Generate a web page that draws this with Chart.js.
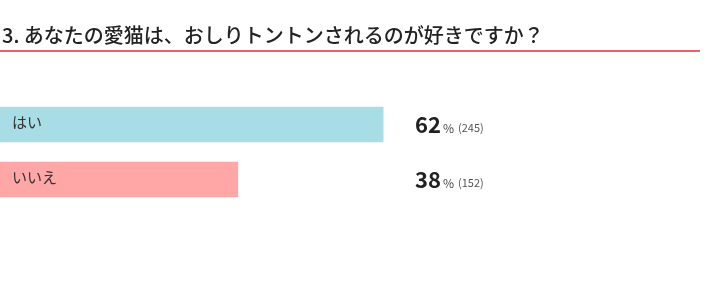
<!DOCTYPE html>
<html>
<head>
<meta charset="utf-8">
<script src="https://cdn.jsdelivr.net/npm/chart.js@4"></script>
<style>
  html, body { margin: 0; padding: 0; background: #fff; }
  #wrap { position: relative; width: 710px; height: 302px; overflow: hidden; }
  #title {
    position: absolute; left: 0; top: 22px; width: 700px;
    font-family: "Noto Sans CJK JP", sans-serif; font-size: 20px; font-weight: 500;
    color: #222; line-height: 26px; padding-bottom: 2px; padding-left: 2px;
    border-bottom: 2px solid #e8646a; box-sizing: border-box;
  }
  canvas { position: absolute; left: 0; top: 0; }
</style>
</head>
<body>
<div id="wrap">
  <canvas id="chart" width="710" height="302"></canvas>
  <div id="title">3. あなたの愛猫は、おしりトントンされるのが好きですか？</div>
</div>
<script>
const categories = ['はい', 'いいえ'];
const shares = [61.7, 38.3];      // bar lengths (%)
const percentLabels = [62, 38];   // rounded % shown as text
const counts = [245, 152];
const barColors = ['#a9dde6', '#ffa6a6'];

// draws the label inside each bar and the value text on the right
const labelPlugin = {
  id: 'labels',
  afterDatasetsDraw(chart) {
    const ctx = chart.ctx;
    const meta = chart.getDatasetMeta(0);
    ctx.save();
    meta.data.forEach((bar, i) => {
      const y = bar.y;
      ctx.textBaseline = 'middle';
      ctx.fillStyle = '#333';
      ctx.font = '15px "Noto Sans CJK JP", sans-serif';
      ctx.fillText(categories[i], 12, y - 2);

      let x = 415;
      ctx.textBaseline = 'alphabetic';
      ctx.fillStyle = '#222';
      ctx.font = 'bold 22px "Noto Sans CJK JP", sans-serif';
      const big = String(percentLabels[i]);
      ctx.fillText(big, x, y + 8);
      x += ctx.measureText(big).width + 2;
      ctx.fillStyle = '#444';
      ctx.font = '12px "Noto Sans CJK JP", sans-serif';
      ctx.fillText('%', x, y + 8);
      x += ctx.measureText('%').width + 4;
      ctx.fillStyle = '#555';
      ctx.font = '11px "Noto Sans CJK JP", sans-serif';
      ctx.fillText('(' + counts[i] + ')', x, y + 7);
    });
    ctx.restore();
  }
};

new Chart(document.getElementById('chart'), {
  type: 'bar',
  data: {
    labels: categories,
    datasets: [{
      data: shares,
      backgroundColor: barColors,
      borderWidth: 0,
      barThickness: 35
    }]
  },
  options: {
    indexAxis: 'y',
    responsive: false,
    animation: false,
    layout: { padding: { top: 97, bottom: 95, left: 0, right: 89 } },
    plugins: { legend: { display: false }, tooltip: { enabled: false } },
    scales: {
      x: { display: false, min: 0, max: 100 },
      y: { display: false }
    }
  },
  plugins: [labelPlugin]
});
</script>
</body>
</html>
